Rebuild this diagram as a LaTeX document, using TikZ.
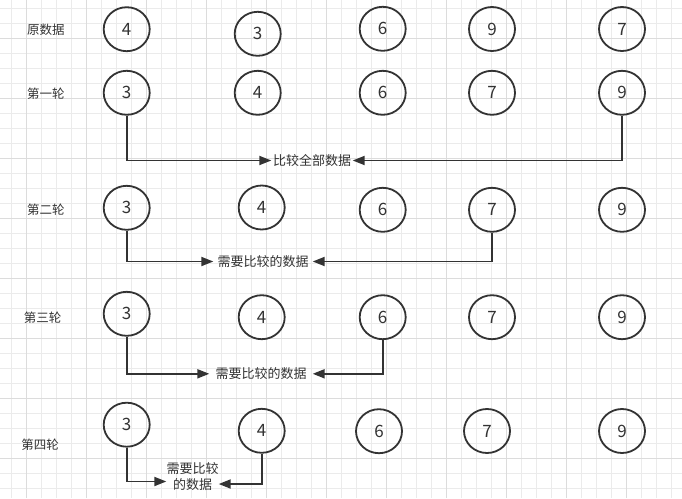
\documentclass[tikz,border=0pt]{standalone}
\usepackage{fontspec}
\setmainfont{Noto Sans CJK SC}
\usetikzlibrary{arrows.meta, shapes.geometric}

\definecolor{inkgray}{HTML}{333333}
\definecolor{gridminor}{HTML}{EBEBEB}
\definecolor{gridmajor}{HTML}{DCDCDC}

\begin{document}
\begin{tikzpicture}[
		x=1pt, y=-1pt,
		num/.style   ={ellipse,	draw=inkgray,	line width=1.8pt,	inner sep=0pt,	minimum width=46pt,	minimum height=44pt,	text=inkgray,	font=\fontsize{17}{20}\selectfont},
		rowlabel/.style={text=inkgray,	font=\fontsize{12.5}{15}\selectfont,	inner sep=1pt},
		note/.style  ={text=inkgray,	font=\fontsize{13}{15.5}\selectfont,	inner ysep=2pt,	align=center},
		link/.style  ={draw=inkgray,	line width=1.9pt,	-{Triangle[length=12pt,width=9pt]}},
		minorline/.style={draw=gridminor,	line width=0.9pt},
		majorline/.style={draw=gridmajor,	line width=0.9pt},
	]

	% page and grid
	\useasboundingbox (0,0) rectangle (682,498);
	\fill [white] (0,0) rectangle (682,498);
	\foreach \gx in {11.7,26.7,...,682}
		\draw [minorline] (\gx,0) -- (\gx,498);
	\foreach \gy in {8.5,23.5,...,498}
		\draw [minorline] (0,\gy) -- (682,\gy);
	\foreach \gx in {26.7,86.7,...,682}
		\draw [majorline] (\gx,0) -- (\gx,498);
	\foreach \gy in {38.5,98.5,...,498}
		\draw [majorline] (0,\gy) -- (682,\gy);

	% row labels
	\node [rowlabel] (lab0) at (45.8,29.3)  {原数据};
	\node [rowlabel] (lab1) at (45.8,93.3)  {第一轮};
	\node [rowlabel] (lab2) at (45.8,210)   {第二轮};
	\node [rowlabel] (lab3) at (42.5,317.7) {第三轮};
	\node [rowlabel] (lab4) at (40,445)     {第四轮};

	% numbers
	\foreach \c/\x/\y/\v in {1/126.7/29.2/4, 2/257.7/33.8/3, 3/382.7/28.8/6, 4/492/29/9, 5/622/29/7}
		\node [num] (r0c\c) at (\x,\y) {\v};
	\foreach \c/\x/\y/\v in {1/126.7/92.8/3, 2/257.7/92.8/4, 3/382.7/92.8/6, 4/492/92.8/7, 5/622/92.8/9}
		\node [num] (r1c\c) at (\x,\y) {\v};
	\foreach \c/\x/\y/\v in {1/126.7/207.8/3, 2/261.7/207.5/4, 3/382.7/209.8/6, 4/492/209.8/7, 5/622/209.8/9}
		\node [num] (r2c\c) at (\x,\y) {\v};
	\foreach \c/\x/\y/\v in {1/126.7/313.8/3, 2/261.7/317.2/4, 3/382.7/317.2/6, 4/492/317.2/7, 5/622/317.2/9}
		\node [num] (r3c\c) at (\x,\y) {\v};
	\foreach \c/\x/\y/\v in {1/126.7/424.7/3, 2/261.7/430.8/4, 3/379/431.2/6, 4/487/431/7, 5/622/431/9}
		\node [num] (r4c\c) at (\x,\y) {\v};

	% compare notes
	\node [note, inner xsep=1.5pt] (note1) at (312,160.5)   {比较全部数据};
	\node [note, inner xsep=4pt]   (note2) at (263,261.5)   {需要比较的数据};
	\node [note, inner xsep=6pt]   (note3) at (261,373.8)   {需要比较的数据};
	\node [note, inner xsep=0pt]   (note4) at (192.5,476.5) {需要比较\\的数据};

	% arrows
	\draw [link] (r1c1.south) |- (note1.west);
	\draw [link] (r1c5.south) |- (note1.east);
	\draw [link] (r2c1.south) |- (note2.west);
	\draw [link] (r2c4.south) |- (note2.east);
	\draw [link] (r3c1.south) |- (note3.west);
	\draw [link] (r3c3.south) |- (note3.east);
	\draw [link] (r4c1.south) |- ([yshift=-5pt]note4.west);
	\draw [link] (r4c2.south) |- ([yshift=-7.5pt]note4.east);

\end{tikzpicture}
\end{document}
